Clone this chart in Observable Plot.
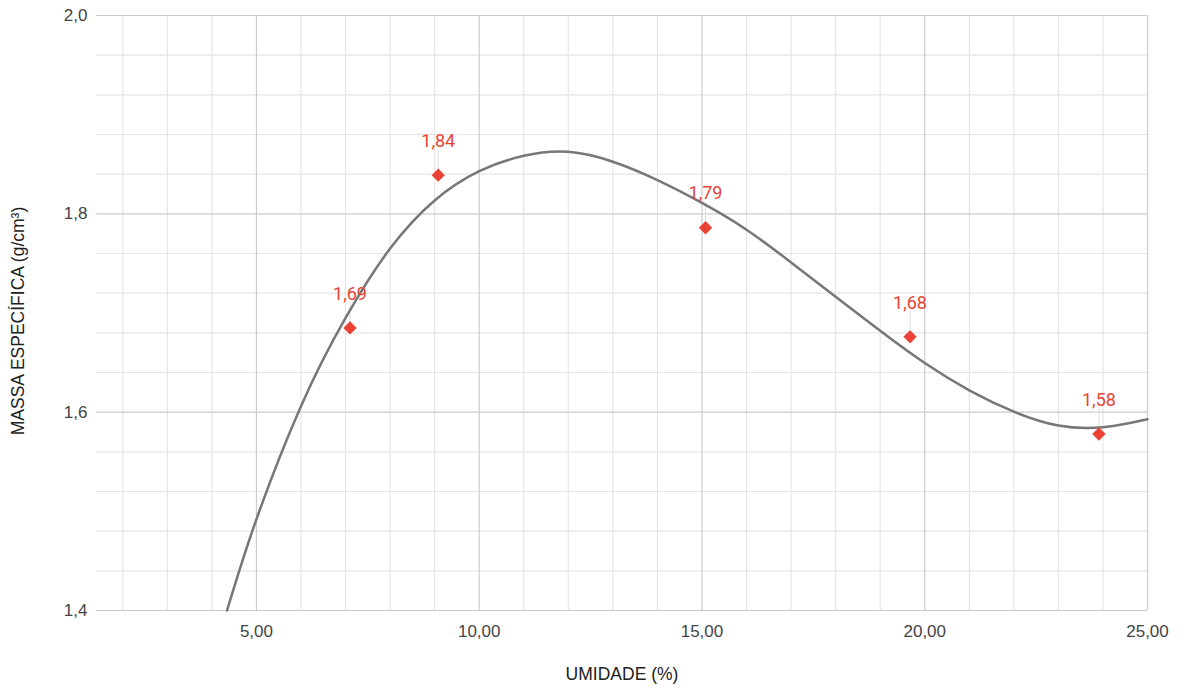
<!DOCTYPE html>
<html><head><meta charset="utf-8">
<script src="https://cdn.jsdelivr.net/npm/d3@7"></script>
<script src="https://cdn.jsdelivr.net/npm/@observablehq/plot@0.6"></script>
<style>body{margin:0;background:#fff;}</style>
</head><body><div id="chart"></div>
<script>
// Data points (umidade %, massa específica g/cm³)
const umidade = [7.10, 9.08, 15.08, 19.67, 23.91];
const massa = [1.685, 1.839, 1.786, 1.676, 1.578];
const rotulos = ["1,69", "1,84", "1,79", "1,68", "1,58"];
// Trend line
const trendX = [4.34, 5, 6, 7, 8, 9, 10, 11, 12, 13, 14, 15, 16, 17, 18, 19, 20, 21, 22, 23, 24, 25];
const trendY = [1.400, 1.492, 1.606, 1.695, 1.765, 1.8135, 1.843, 1.8585, 1.8625, 1.8525, 1.834, 1.811, 1.784, 1.751, 1.7165, 1.682, 1.6495, 1.622, 1.6005, 1.5865, 1.5848, 1.5929];
// Ticks / grid
const xMajor = [5, 10, 15, 20, 25];
const xMinor = [2, 3, 4, 6, 7, 8, 9, 11, 12, 13, 14, 16, 17, 18, 19, 21, 22, 23, 24];
const yMajor = [1.4, 1.6, 1.8, 2.0];
const yMinor = [1.44, 1.48, 1.52, 1.56, 1.64, 1.68, 1.72, 1.76, 1.84, 1.88, 1.92, 1.96];

const pts = umidade.map((x, i) => ({x, y: massa[i], label: rotulos[i]}));
const trend = trendX.map((x, i) => ({x, y: trendY[i]}));
const fx = d => d3.format(".2f")(d).replace(".", ",");
const fy = d => d3.format(".1f")(d).replace(".", ",");

const chart = Plot.plot({
  width: 1184, height: 689,
  marginLeft: 96, marginRight: 37, marginTop: 15, marginBottom: 79,
  x: {domain: [1.41, 25]},
  y: {domain: [1.4, 2.0]},
  style: {fontFamily: "Arial, 'Liberation Sans', sans-serif", fontSize: "17px", color: "#444", background: "#fff"},
  marks: [
    Plot.ruleX(xMinor, {stroke: "#e6e6e6", strokeWidth: 1.2}),
    Plot.ruleY(yMinor, {stroke: "#e6e6e6", strokeWidth: 1.2}),
    Plot.ruleX(xMajor, {stroke: "#cccccc", strokeWidth: 1.2}),
    Plot.ruleY(yMajor, {stroke: "#cccccc", strokeWidth: 1.2}),
    Plot.axisX({ticks: xMajor, tickSize: 0, tickPadding: 14, tickFormat: fx, label: null}),
    Plot.axisY({ticks: yMajor, tickSize: 0, tickPadding: 9, tickFormat: fy, label: null}),
    Plot.ruleX(pts, {x: "x", y1: "y", y2: "y", insetBottom: 25, stroke: "#dddddd", strokeWidth: 1}),
    Plot.line(trend, {x: "x", y: "y", curve: "natural", stroke: "#777777", strokeWidth: 2.5}),
    Plot.dot(pts, {x: "x", y: "y", symbol: "diamond2", r: 6, fill: "#ea4335", stroke: "none"}),
    Plot.text(pts, {x: "x", y: "y", text: "label", dy: -34, fill: "#ea4335", fontFamily: "Roboto, sans-serif", fontSize: 18}),
    Plot.text(["UMIDADE (%)"], {text: d => d, frameAnchor: "bottom", textAnchor: "middle", lineAnchor: "middle", dy: 64, fill: "#222", fontSize: 17.5}),
    Plot.text(["MASSA ESPECÍFICA (g/cm³)"], {text: d => d, frameAnchor: "left", textAnchor: "middle", rotate: -90, dx: -78, dy: 8, fill: "#222", fontSize: 17.5})
  ]
});
document.getElementById("chart").appendChild(chart);
</script>
</body></html>
